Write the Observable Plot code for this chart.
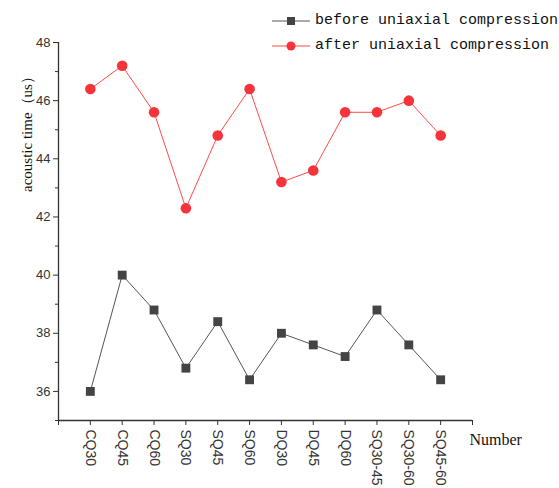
<!DOCTYPE html>
<html><head><meta charset="utf-8">
<script src="https://cdn.jsdelivr.net/npm/d3@7"></script>
<script src="https://cdn.jsdelivr.net/npm/@observablehq/plot@0.6"></script>
<style>
body{margin:0;background:#fff;}
#wrap{position:relative;width:559px;height:488px;}
#legend{position:absolute;left:272px;top:8px;font-family:"Liberation Mono",monospace;font-size:15px;color:#111;}
#legend .row{display:flex;align-items:center;height:25px;}
#legend svg{margin-right:5px;}
</style></head>
<body><div id="wrap"><div id="legend"></div></div>
<script>
const categories = ["CQ30","CQ45","CQ60","SQ30","SQ45","SQ60","DQ30","DQ45","DQ60","SQ30-45","SQ30-60","SQ45-60"];
const before = [36.0,40.0,38.8,36.8,38.4,36.4,38.0,37.6,37.2,38.8,37.6,36.4];
const after = [46.4,47.2,45.6,42.3,44.8,46.4,43.2,43.6,45.6,45.6,46.0,44.8];
const seriesNames = ["before uniaxial compression","after uniaxial compression"];
const yTicks = [36,38,40,42,44,46,48];
const yMinor = [35,37,39,41,43,45,47];
const yTitle = "acoustic time（us）";
const xTitle = "Number";

const colBeforeLine = "#555", colBeforeDot = "#444";
const colAfterLine = "#ff4a4a", colAfterDot = "#f5333a";

const rowsB = categories.map((c,i)=>({i, c, v: before[i]}));
const rowsA = categories.map((c,i)=>({i, c, v: after[i]}));

const chart = Plot.plot({
  width: 559, height: 488,
  marginLeft: 58, marginRight: 87, marginTop: 42, marginBottom: 68,
  x: {domain: [-1, categories.length], type: "linear"},
  y: {domain: [35, 48]},
  style: {fontFamily: "Liberation Sans, Arial, sans-serif", fontSize: "13px", color: "#333", background: "#fff"},
  marks: [
    Plot.ruleX([-1], {y1: 35, y2: 48, stroke: "#333", strokeWidth: 1.3}),
    Plot.ruleY([35], {x1: -1, x2: categories.length, stroke: "#333", strokeWidth: 1.3}),
    Plot.axisY({ticks: yTicks, tickSize: 5, tickPadding: 3, label: null, stroke: "#333", fontSize: 13}),
    Plot.axisY({ticks: yMinor, tickSize: 3, text: null, label: null, stroke: "#333"}),
    Plot.text([yTitle], {frameAnchor: "top-left", rotate: -90, dx: -37, dy: 88, textAnchor: "middle",
      fontFamily: "Liberation Serif, Times New Roman, serif", fontSize: 15, fill: "#111"}),
    Plot.axisX({ticks: d3.range(-1, categories.length + 1), tickSize: 5, tickPadding: 4, tickRotate: 90,
      tickFormat: d => categories[d] ?? "", label: null, stroke: "#333", fontSize: 14}),
    Plot.text([xTitle], {frameAnchor: "bottom-right", dx: -3, dy: 24, textAnchor: "start",
      fontFamily: "Liberation Serif, Times New Roman, serif", fontSize: 16, fill: "#111"}),
    Plot.line(rowsB, {x: "i", y: "v", stroke: colBeforeLine, strokeWidth: 1}),
    Plot.dot(rowsB, {x: "i", y: "v", symbol: "square", r: 5, fill: colBeforeDot, stroke: "none"}),
    Plot.line(rowsA, {x: "i", y: "v", stroke: colAfterLine, strokeWidth: 1}),
    Plot.dot(rowsA, {x: "i", y: "v", symbol: "circle", r: 5.3, fill: colAfterDot, stroke: "none"})
  ]
});
document.getElementById("wrap").prepend(chart);

const legend = document.getElementById("legend");
const specs = [
  {name: seriesNames[0], line: colBeforeLine, dot: colBeforeDot, sq: true},
  {name: seriesNames[1], line: colAfterLine, dot: colAfterDot, sq: false}
];
for (const s of specs) {
  const row = document.createElement("div"); row.className = "row";
  const mk = s.sq ? `<rect x="15" y="5" width="8" height="8" fill="${s.dot}"/>` : `<circle cx="19" cy="9" r="4.5" fill="${s.dot}"/>`;
  row.innerHTML = `<svg width="38" height="18"><line x1="0" x2="38" y1="9" y2="9" stroke="${s.line}" stroke-width="1.2"/>${mk}</svg><span>${s.name}</span>`;
  legend.appendChild(row);
}
</script></body></html>
